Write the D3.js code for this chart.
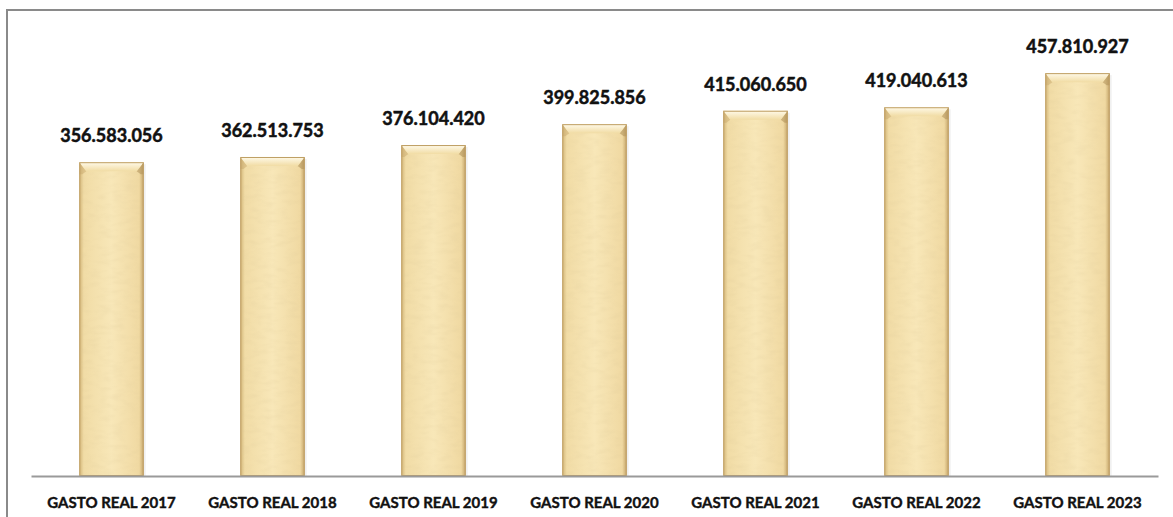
<!DOCTYPE html>
<html>
<head>
<meta charset="utf-8">
<script src="https://cdn.jsdelivr.net/npm/d3@7"></script>
<style>
  body { margin: 0; background: #fff; }
  svg { display: block; }
</style>
</head>
<body>
<div id="chart"></div>
<script>
// Chart size
const width = 1173;
const height = 517;

// Data
const categories = ["GASTO REAL 2017", "GASTO REAL 2018", "GASTO REAL 2019", "GASTO REAL 2020",
                    "GASTO REAL 2021", "GASTO REAL 2022", "GASTO REAL 2023"];
const values = [356583056, 362513753, 376104420, 399825856, 415060650, 419040613, 457810927];
const valueLabels = ["356.583.056", "362.513.753", "376.104.420", "399.825.856",
                     "415.060.650", "419.040.613", "457.810.927"];

const rows = categories.map(function(c, i) {
    return {cat: c, value: values[i], label: valueLabels[i]};
});

let svg = d3.select("#chart").append("svg")
            .attr("width", width)
            .attr("height", height);

let defs = svg.append("defs");

// horizontal shading of the bar body
let body = defs.append("linearGradient").attr("id", "bodyGrad")
               .attr("x1", "0").attr("x2", "1").attr("y1", "0").attr("y2", "0");
body.append("stop").attr("offset", "0%").attr("stop-color", "#d2b577");
body.append("stop").attr("offset", "7%").attr("stop-color", "#f1dca6");
body.append("stop").attr("offset", "50%").attr("stop-color", "#f8e7b8");
body.append("stop").attr("offset", "93%").attr("stop-color", "#f0d9a2");
body.append("stop").attr("offset", "100%").attr("stop-color", "#c4a468");

// top bevel
let bevel = defs.append("linearGradient").attr("id", "bevelGrad")
                .attr("x1", "0").attr("x2", "0").attr("y1", "0").attr("y2", "1");
bevel.append("stop").attr("offset", "0%").attr("stop-color", "#fffaea");
bevel.append("stop").attr("offset", "100%").attr("stop-color", "#f1dca4");

// paper fibre texture
let tex = defs.append("filter").attr("id", "paper")
              .attr("x", "0").attr("y", "0").attr("width", "1").attr("height", "1");
tex.append("feTurbulence")
   .attr("type", "fractalNoise")
   .attr("baseFrequency", "0.08 0.2")
   .attr("numOctaves", 2)
   .attr("seed", 4)
   .attr("result", "noise");
tex.append("feColorMatrix")
   .attr("in", "noise")
   .attr("type", "matrix")
   .attr("values", "0 0 0 0 0.70  0 0 0 0 0.56  0 0 0 0 0.30  1.2 0 0 0 -0.5")
   .attr("result", "tint");
tex.append("feComposite")
   .attr("in", "tint").attr("in2", "SourceGraphic").attr("operator", "in");

// Frame
svg.append("rect")
   .attr("x", 7).attr("y", 10)
   .attr("width", 1180).attr("height", 530)
   .attr("fill", "none")
   .attr("stroke", "#8a8a8a")
   .attr("stroke-width", 2);

// Scales
let x = d3.scaleBand()
          .domain(categories)
          .range([31, 1158])
          .paddingInner(0.6)
          .paddingOuter(0.3);

let y = d3.scaleLinear()
          .domain([0, 500000000])
          .range([476, 36]);

let bar = svg.selectAll("g.bar")
             .data(rows)
             .enter()
             .append("g")
             .attr("class", "bar");

// faint shadow
bar.append("rect")
   .attr("x", function(d) { return x(d.cat) + 2; })
   .attr("y", function(d) { return y(d.value) + 2; })
   .attr("width", x.bandwidth())
   .attr("height", function(d) { return 476 - y(d.value) - 2; })
   .attr("fill", "#000")
   .attr("opacity", 0.06);

// body
bar.append("rect")
   .attr("x", function(d) { return x(d.cat); })
   .attr("y", function(d) { return y(d.value); })
   .attr("width", x.bandwidth())
   .attr("height", function(d) { return 476 - y(d.value); })
   .attr("fill", "url(#bodyGrad)");

// texture overlay
bar.append("rect")
   .attr("x", function(d) { return x(d.cat); })
   .attr("y", function(d) { return y(d.value); })
   .attr("width", x.bandwidth())
   .attr("height", function(d) { return 476 - y(d.value); })
   .attr("fill", "#fff")
   .attr("filter", "url(#paper)")
   .attr("opacity", 0.3);

// side corners of the bevel
bar.append("polygon")
   .attr("points", function(d) {
       let x0 = x(d.cat), t = y(d.value);
       return [[x0, t], [x0 + 7, t + 9], [x0 + 3, t + 12], [x0, t + 12]].join(" ");
   })
   .attr("fill", "#c7a86c")
   .attr("opacity", 0.5);
bar.append("polygon")
   .attr("points", function(d) {
       let x1 = x(d.cat) + x.bandwidth(), t = y(d.value);
       return [[x1, t], [x1 - 7, t + 9], [x1 - 3, t + 12], [x1, t + 12]].join(" ");
   })
   .attr("fill", "#a8874f")
   .attr("opacity", 0.5);

// bevel on top
bar.append("polygon")
   .attr("points", function(d) {
       let x0 = x(d.cat), x1 = x0 + x.bandwidth(), t = y(d.value);
       return [[x0, t], [x1, t], [x1 - 7, t + 9], [x0 + 7, t + 9]].join(" ");
   })
   .attr("fill", "url(#bevelGrad)");

// thin outline
bar.append("rect")
   .attr("x", function(d) { return x(d.cat) + 0.5; })
   .attr("y", function(d) { return y(d.value) + 0.5; })
   .attr("width", x.bandwidth() - 1)
   .attr("height", function(d) { return 476 - y(d.value) - 1; })
   .attr("fill", "none")
   .attr("stroke", "#bf9f64")
   .attr("stroke-width", 1);

// value labels
bar.append("text")
   .attr("x", function(d) { return x(d.cat) + x.bandwidth() / 2; })
   .attr("y", function(d) { return y(d.value) - 20; })
   .attr("text-anchor", "middle")
   .style("font-family", "Lato, 'Open Sans', sans-serif")
   .style("font-weight", "bold")
   .style("font-size", "18px")
   .style("fill", "#111")
   .style("stroke", "#111")
   .style("stroke-width", "0.5px")
   .text(function(d) { return d.label; });

// baseline axis
let xAxis = d3.axisBottom(x).tickSize(0).tickPadding(21);
let axisG = svg.append("g")
               .attr("transform", "translate(0,476)")
               .call(xAxis);
axisG.select(".domain")
     .attr("stroke", "#9a9a9a")
     .attr("stroke-width", 2);
axisG.selectAll("text")
     .style("font-family", "Lato, 'Open Sans', sans-serif")
     .style("font-weight", "bold")
     .style("font-size", "15px")
     .style("fill", "#111")
     .style("stroke", "#111")
     .style("stroke-width", "0.4px");
</script>
</body>
</html>
